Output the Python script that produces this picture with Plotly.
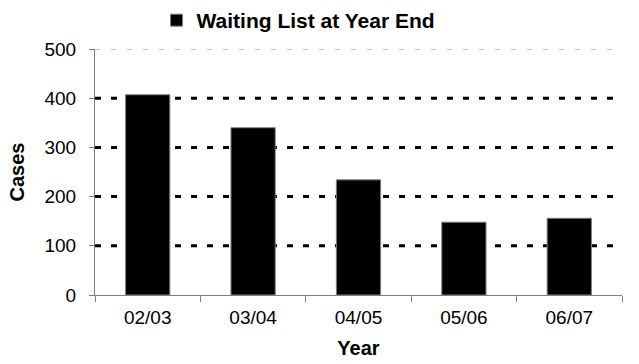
import plotly.graph_objects as go

# Waiting list size at the end of each year
years = ["02/03", "03/04", "04/05", "05/06", "06/07"]
cases = [407, 340, 234, 148, 156]
y_ticks = [0, 100, 200, 300, 400, 500]

FONT = "Liberation Sans, Arial, sans-serif"

fig = go.Figure()
fig.add_trace(go.Bar(
    x=years,
    y=cases,
    name="<b>Waiting List at Year End</b>",
    marker=dict(color="black", line=dict(color="#808080", width=1)),
    showlegend=True,
))

# Dashed horizontal gridlines: heavy black inside, light grey at the top
for v in y_ticks[1:]:
    top = v == y_ticks[-1]
    fig.add_shape(
        type="line", xref="paper", x0=0, x1=1, yref="y", y0=v, y1=v,
        layer="below",
        line=dict(color="#808080" if top else "black",
                  width=1 if top else 3,
                  dash="5px,11px" if top else "6px,10px"),
    )

fig.update_layout(
    width=639, height=364,
    margin=dict(l=95, r=17, t=49, b=69, autoexpand=False),
    plot_bgcolor="white", paper_bgcolor="white",
    font=dict(family=FONT, size=19, color="black"),
    bargap=0.58,
    showlegend=True,
    legend=dict(
        orientation="h", xref="container", yref="container",
        x=0.245, xanchor="left", y=1.0, yanchor="top",
        font=dict(size=21, family=FONT, color="black"),
        bgcolor="rgba(0,0,0,0)", itemwidth=30,
    ),
    xaxis=dict(
        title=dict(text="<b>Year</b>", font=dict(size=20), standoff=14),
        showline=True, linecolor="#808080", linewidth=1,
        ticks="outside", tickson="boundaries", ticklen=6, tickcolor="#808080",
        ticklabelstandoff=5,
        showgrid=False,
    ),
    yaxis=dict(
        title=dict(text="<b>Cases</b>", font=dict(size=20), standoff=14),
        range=[0, 500], tickvals=y_ticks,
        showline=True, linecolor="#808080", linewidth=1,
        ticks="outside", ticklen=5, tickcolor="#808080",
        ticklabelstandoff=9,
        showgrid=False, zeroline=False,
    ),
)

fig.write_html("out.html")
